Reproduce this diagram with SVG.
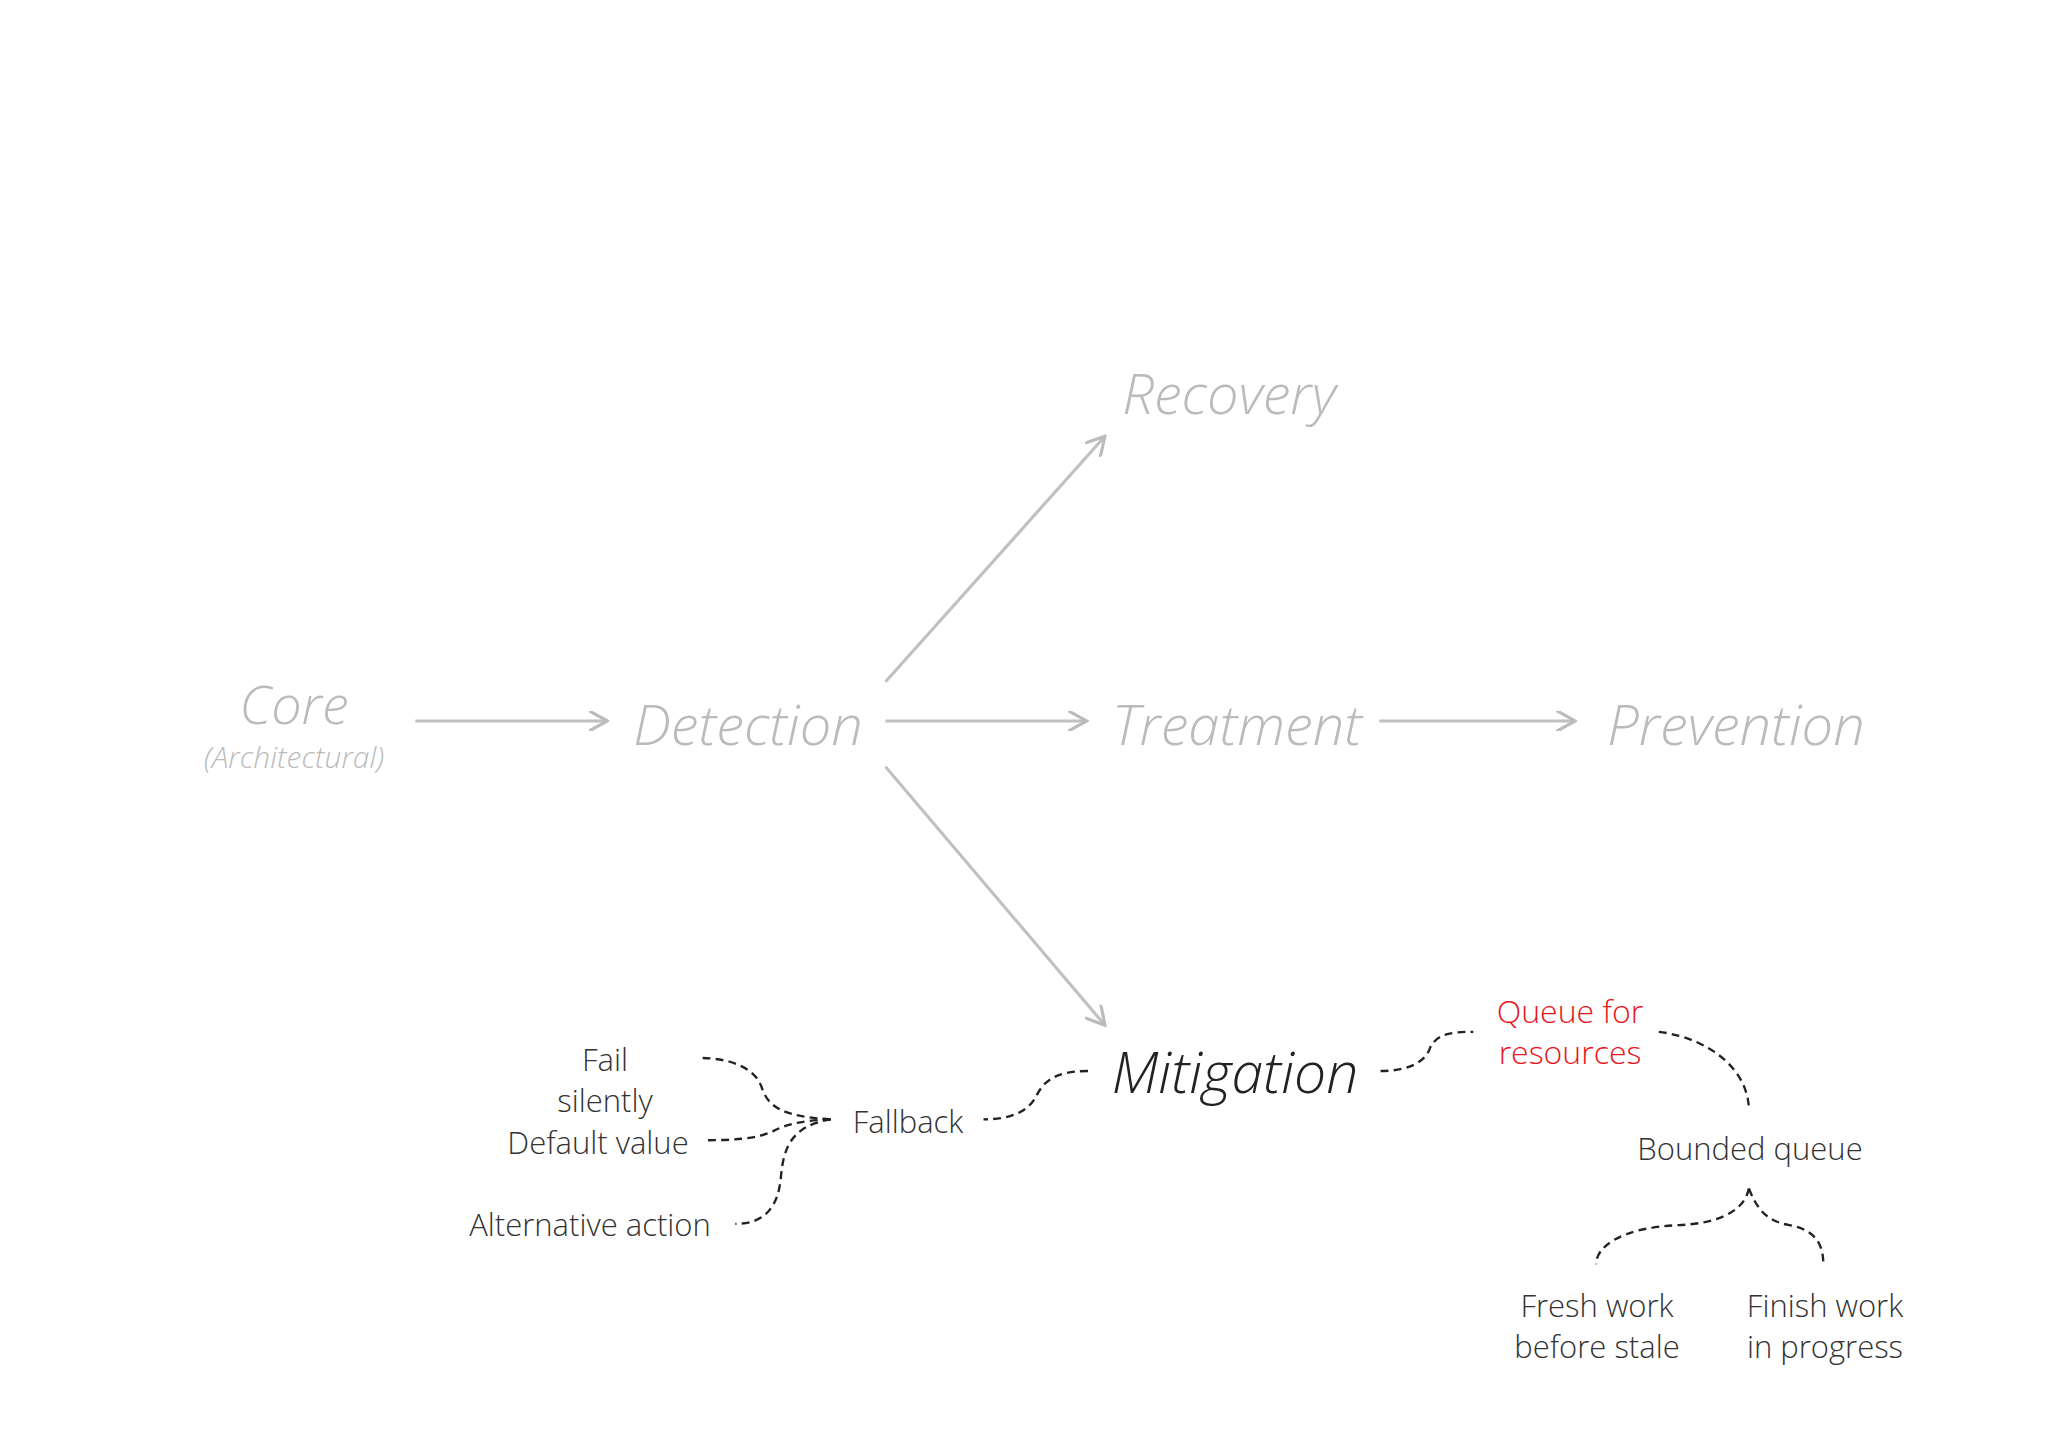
<svg xmlns="http://www.w3.org/2000/svg" width="2048" height="1449" viewBox="0 0 2048 1449">
<defs>
<marker id="ah" viewBox="0 0 10 10" refX="9" refY="5" markerWidth="16" markerHeight="16" markerUnits="userSpaceOnUse" orient="auto"><path d="M0,0 L9,5 L0,10" fill="none" stroke="#bbb" stroke-width="1.5"/></marker>
</defs>
<style>
text{font-family:"Open Sans","Noto Sans",sans-serif;text-anchor:middle;font-weight:300}
.g{fill:#bbb;font-style:italic;font-size:56px}
.d{fill:#333;font-size:31px}
.a{stroke:#c0c0c0;stroke-width:2.4;fill:none}
.c{stroke:#222;stroke-width:1.8;fill:none;stroke-dasharray:6 4}
</style>
<rect width="2048" height="1449" fill="#fff"/>
<g id="connectors">
<g transform="scale(1.3061)">
<path class="a" d="M318,552 H465" marker-end="url(#ah)"/>
<path class="a" d="M678,552 H832" marker-end="url(#ah)"/>
<path class="a" d="M1056,552 H1206" marker-end="url(#ah)"/>
<path class="a" d="M678,522 L846,334" marker-end="url(#ah)"/>
<path class="a" d="M678,587 L846,785" marker-end="url(#ah)"/>
</g>
<g transform="scale(1.3061)">
<path class="c" d="M833,820 C805,820 798,830 793,840 C786,853 770,857 753,857"/>
<path class="c" d="M1057,820 C1080,820 1092,812 1095,802 C1100,792 1110,790 1128,790"/>
<path class="c" d="M1270,790 C1310,795 1339,820 1339,850"/>
<path class="c" d="M1339,910 C1335,930 1310,937 1285,938 C1240,940 1222,955 1222,968"/>
<path class="c" d="M1339,910 C1345,925 1352,935 1370,938 C1392,942 1396,955 1396,968"/>
<path class="c" d="M636,857 C600,855 588,848 583,832 C578,818 560,810 535,810"/>
<path class="c" d="M636,857 C610,858 600,862 592,866 C580,872 560,873 541,873"/>
<path class="c" d="M636,857 C605,862 600,880 598,900 C596,925 585,937 563,937"/>
</g>
</g>
<g id="core"><text class="g" x="294" y="724" style="font-size:54px">Core</text><text class="g" x="294" y="768" style="font-size:30px">(Architectural)</text></g>
<g id="detection"><text class="g" x="748" y="745">Detection</text></g>
<g id="treatment"><text class="g" x="1237" y="745">Treatment</text></g>
<g id="prevention"><text class="g" x="1736" y="745">Prevention</text></g>
<g id="recovery"><text class="g" x="1229" y="414">Recovery</text></g>
<g id="mitigation"><text x="1235" y="1093" style="font-size:57px;font-style:italic;fill:#222">Mitigation</text></g>
<g id="queue"><text x="1570" y="1023" style="font-size:32px;fill:#e8151b">Queue for</text><text x="1570" y="1064" style="font-size:32px;fill:#e8151b">resources</text></g>
<g id="bounded"><text class="d" x="1750" y="1160">Bounded queue</text></g>
<g id="fresh"><text class="d" x="1597" y="1317">Fresh work</text><text class="d" x="1597" y="1358">before stale</text></g>
<g id="finish"><text class="d" x="1825" y="1317">Finish work</text><text class="d" x="1825" y="1358">in progress</text></g>
<g id="fallback"><text class="d" x="908" y="1133">Fallback</text></g>
<g id="fail"><text class="d" x="605" y="1071">Fail</text><text class="d" x="605" y="1112">silently</text></g>
<g id="default"><text class="d" x="598" y="1154">Default value</text></g>
<g id="alternative"><text class="d" x="590" y="1236">Alternative action</text></g>
</svg>
